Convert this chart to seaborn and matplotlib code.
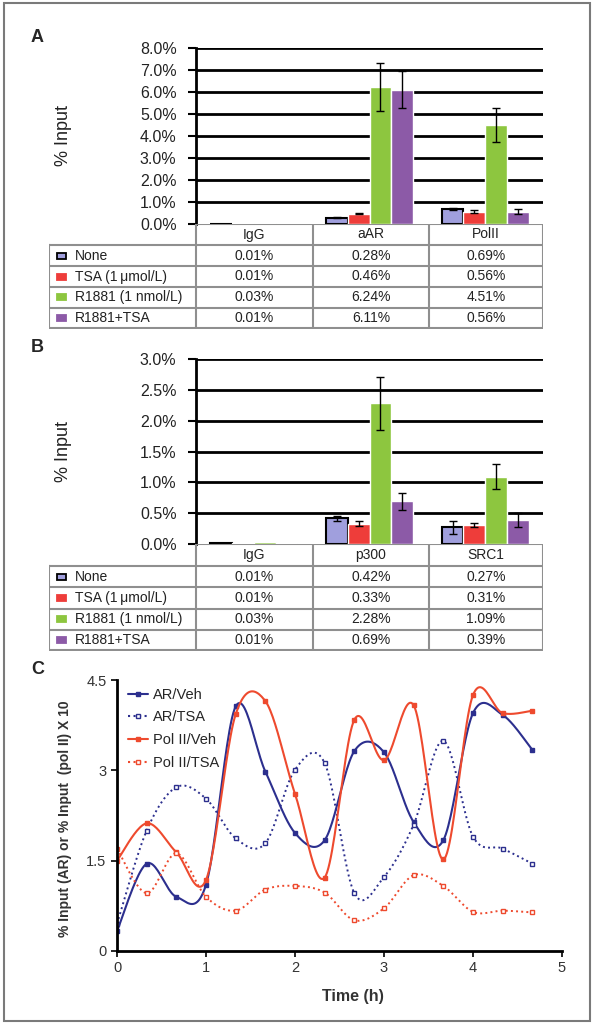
import numpy as np
import pandas as pd
import matplotlib
matplotlib.use('Agg')
import matplotlib.pyplot as plt
import seaborn as sns
from matplotlib.patches import Rectangle
from matplotlib.lines import Line2D

# ---- data ----
treatments = ['None', 'TSA (1\u2009\u03bcmol/L)', 'R1881 (1 nmol/L)', 'R1881+TSA']
bar_colors = ['#a09fdd', '#ee3d3a', '#8dc63f', '#8c5aa7']

# panel A
targets_a = ['IgG', 'aAR', 'PolII']
a_none = [0.01, 0.28, 0.69]
a_tsa = [0.01, 0.46, 0.56]
a_r1881 = [0.03, 6.24, 4.51]
a_combo = [0.01, 6.11, 0.56]
a_none_err = [0.0, 0.02, 0.05]
a_tsa_err = [0.0, 0.02, 0.08]
a_r1881_err = [0.0, 1.1, 0.77]
a_combo_err = [0.0, 0.85, 0.1]

# panel B
targets_b = ['IgG', 'p300', 'SRC1']
b_none = [0.01, 0.42, 0.27]
b_tsa = [0.01, 0.33, 0.31]
b_r1881 = [0.03, 2.28, 1.09]
b_combo = [0.01, 0.69, 0.39]
b_none_err = [0.0, 0.04, 0.11]
b_tsa_err = [0.0, 0.04, 0.03]
b_r1881_err = [0.0, 0.43, 0.2]
b_combo_err = [0.0, 0.14, 0.11]

# panel C
time_h = np.arange(15) / 3
ar_veh = [0.33, 1.45, 0.9, 1.1, 4.06, 2.98, 1.96, 1.84, 3.32, 3.3, 2.14, 1.84, 3.95, 3.92, 3.34]
ar_tsa = [0.45, 2.0, 2.72, 2.53, 1.87, 1.79, 3.01, 3.12, 0.96, 1.23, 2.1, 3.49, 1.9, 1.7, 1.45]
pol_veh = [1.5, 2.12, 1.64, 1.18, 3.93, 4.15, 2.61, 1.22, 3.84, 3.17, 4.08, 1.52, 4.25, 3.95, 3.99]
pol_tsa = [1.7, 0.96, 1.62, 0.9, 0.67, 1.02, 1.08, 0.97, 0.51, 0.71, 1.26, 1.08, 0.65, 0.67, 0.64]

navy = '#2c2f8e'
red = '#ee4a2e'
grid_gray = '#8f8f8f'

W, H = 593, 1026


def box(l, t, r, b):
    return [l / W, 1 - b / H, (r - l) / W, (b - t) / H]


def smooth(x, y, n=24):
    # excel style smoothed line (bezier through points)
    px = np.r_[x[0], x, x[-1]]
    py = np.r_[y[0], y, y[-1]]
    t = np.linspace(0, 1, n, endpoint=False)[:, None]
    xs, ys = [], []
    for i in range(1, len(px) - 2):
        p1 = np.array([px[i], py[i]])
        p2 = np.array([px[i + 1], py[i + 1]])
        c1 = p1 + (p2 - np.array([px[i - 1], py[i - 1]])) / 6
        c2 = p2 - (np.array([px[i + 2], py[i + 2]]) - p1) / 6
        pts = (1 - t) ** 3 * p1 + 3 * (1 - t) ** 2 * t * c1 + 3 * (1 - t) * t ** 2 * c2 + t ** 3 * p2
        xs.extend(pts[:, 0])
        ys.extend(pts[:, 1])
    xs.append(x[-1])
    ys.append(y[-1])
    return np.array(xs), np.array(ys)


sns.set_theme(style='white')
plt.rcParams['font.family'] = ['Liberation Sans', 'DejaVu Sans']

fig = plt.figure(figsize=(W / 100, H / 100), dpi=100)
fig.patches.append(Rectangle((4 / W, 1 - 1021 / H), 586 / W, 1018 / H, transform=fig.transFigure,
                             fill=False, edgecolor='#7a7a7a', lw=1.5))


def bar_panel(ax_box, tab_box, rows_y, targets, vals, errs, ymax, step, label):
    ax = fig.add_axes(box(*ax_box))
    df = pd.DataFrame({
        'target': np.tile(targets, 4),
        'treatment': np.repeat(treatments, 3),
        'value': np.concatenate(vals),
    })
    sns.barplot(data=df, x='target', y='value', hue='treatment', palette=bar_colors,
                width=0.75, errorbar=None, saturation=1, legend=False, ax=ax, zorder=3)
    for cont, err in zip(ax.containers, errs):
        for bar, e in zip(cont, err):
            if e > 0:
                ax.errorbar(bar.get_x() + bar.get_width() / 2, bar.get_height(), yerr=e,
                            fmt='none', ecolor='black', elinewidth=1, capsize=3, capthick=1, zorder=4)
    for bar in ax.containers[0]:
        bar.set_edgecolor('black')
        bar.set_linewidth(1.5)
    ticks = np.arange(0, ymax + step / 2, step)
    for tk in ticks[1:]:
        ax.axhline(tk, color='black', lw=2, zorder=1)
    ax.set_xlim(-0.5, 2.5)
    ax.set_ylim(0, ymax)
    ax.set_yticks(ticks)
    ax.set_yticklabels([f'{tk:.1f}%' for tk in ticks], fontsize=11.5, color='#222222')
    ax.tick_params(axis='y', length=6, width=1.5, pad=8, color='black', left=True)
    ax.set_xticks([])
    ax.set_xlabel('')
    ax.set_ylabel('% Input', fontsize=13, color='#222222')
    ax.yaxis.set_label_coords((72 - ax_box[0]) / (ax_box[2] - ax_box[0]), 0.5)
    for s in ['top', 'right', 'bottom']:
        ax.spines[s].set_visible(False)
    ax.spines['left'].set_color('black')
    ax.spines['left'].set_linewidth(2)
    ax.set_facecolor('none')

    # data table under the bars
    l, t, r, b = tab_box
    tx = fig.add_axes(box(*tab_box))
    tx.set_xlim(l, r)
    tx.set_ylim(b, t)
    tx.axis('off')
    cols = [196, 313, 429, r]
    kw = dict(color=grid_gray, lw=1.5, solid_capstyle='projecting')
    tx.plot([cols[0], r], [rows_y[0], rows_y[0]], **kw)
    for yy in rows_y[1:]:
        tx.plot([l, r], [yy, yy], **kw)
    tx.plot([l, l], [rows_y[1], rows_y[-1]], **kw)
    for xx in cols:
        tx.plot([xx, xx], [rows_y[0], rows_y[-1]], **kw)
    centers = [(rows_y[i] + rows_y[i + 1]) / 2 for i in range(5)]
    for j, name in enumerate(targets):
        tx.text((cols[j] + cols[j + 1]) / 2, centers[0], name, ha='center', va='center',
                fontsize=10, color='#222222')
    for i, (name, row) in enumerate(zip(treatments, vals)):
        yc = centers[i + 1]
        ec = 'black' if i == 0 else bar_colors[i]
        tx.add_patch(Rectangle((l + 8, yc - 3), 9, 6, facecolor=bar_colors[i], edgecolor=ec, lw=1.3))
        tx.text(l + 26, yc, name, ha='left', va='center', fontsize=10, color='#222222')
        for j, v in enumerate(row):
            tx.text((cols[j] + cols[j + 1]) / 2, yc, f'{v:.2f}%', ha='center', va='center',
                    fontsize=10, color='#222222')
    fig.text(31 / W, 1 - label[1] / H, label[0], fontsize=13, fontweight='bold', va='center')
    return ax


bar_panel((196, 48, 543, 224), (49, 224, 543, 329), [224, 245, 266, 287, 307.5, 328],
          targets_a, [a_none, a_tsa, a_r1881, a_combo],
          [a_none_err, a_tsa_err, a_r1881_err, a_combo_err], 8, 1, ('A', 37))
bar_panel((196, 359, 543, 544), (49, 544, 543, 651), [544, 566, 587.5, 609, 630, 650],
          targets_b, [b_none, b_tsa, b_r1881, b_combo],
          [b_none_err, b_tsa_err, b_r1881_err, b_combo_err], 3, 0.5, ('B', 347))

# ---- panel C ----
ax = fig.add_axes(box(117, 680, 562, 951))
series = [
    ('AR/Veh', ar_veh, navy, '-', navy),
    ('AR/TSA', ar_tsa, navy, ':', 'white'),
    ('Pol II/Veh', pol_veh, red, '-', red),
    ('Pol II/TSA', pol_tsa, red, ':', 'white'),
]
handles = []
for name, vals, col, ls, mfc in series:
    xs, ys = smooth(time_h, np.array(vals))
    sns.lineplot(x=xs, y=ys, sort=False, estimator=None, color=col, linestyle=ls,
                 lw=1.5 if ls == '-' else 1.4, ax=ax)
    ax.plot(time_h, vals, linestyle='none', marker='s', ms=3.5, mfc=mfc, mec=col, mew=1)
    handles.append(Line2D([0], [0], color=col, ls=ls, lw=1.5, marker='s', ms=3.5, mfc=mfc, mec=col))
ax.legend(handles, [s[0] for s in series], loc='upper left', bbox_to_anchor=(-0.005, 1.02),
          frameon=False, fontsize=10.5, handlelength=1.4, handletextpad=0.3, labelspacing=0.6)
ax.set_xlim(0, 5)
ax.set_ylim(0, 4.5)
ax.set_xticks(range(6))
ax.set_yticks([0, 1.5, 3, 4.5])
ax.set_yticklabels(['0', '1.5', '3', '4.5'])
ax.tick_params(axis='both', labelsize=10.5, length=4, width=1.2, color='black', labelcolor='#333333',
               left=True, bottom=True)
ax.set_xlabel('Time (h)', fontsize=11.5, fontweight='bold', color='#333333')
ax.set_ylabel('% Input (AR) or % Input  (pol II) X 10', fontsize=10, fontweight='bold', color='#333333')
ax.yaxis.set_label_coords(-0.101, 0.49)
ax.xaxis.set_label_coords(0.53, -0.14)
for s in ['top', 'right']:
    ax.spines[s].set_visible(False)
for s in ['left', 'bottom']:
    ax.spines[s].set_color('black')
    ax.spines[s].set_linewidth(2)
ax.set_facecolor('none')
fig.text(31 / W, 1 - 669 / H, 'C', fontsize=13, fontweight='bold', va='center')

fig.savefig('out.png', dpi=100)
